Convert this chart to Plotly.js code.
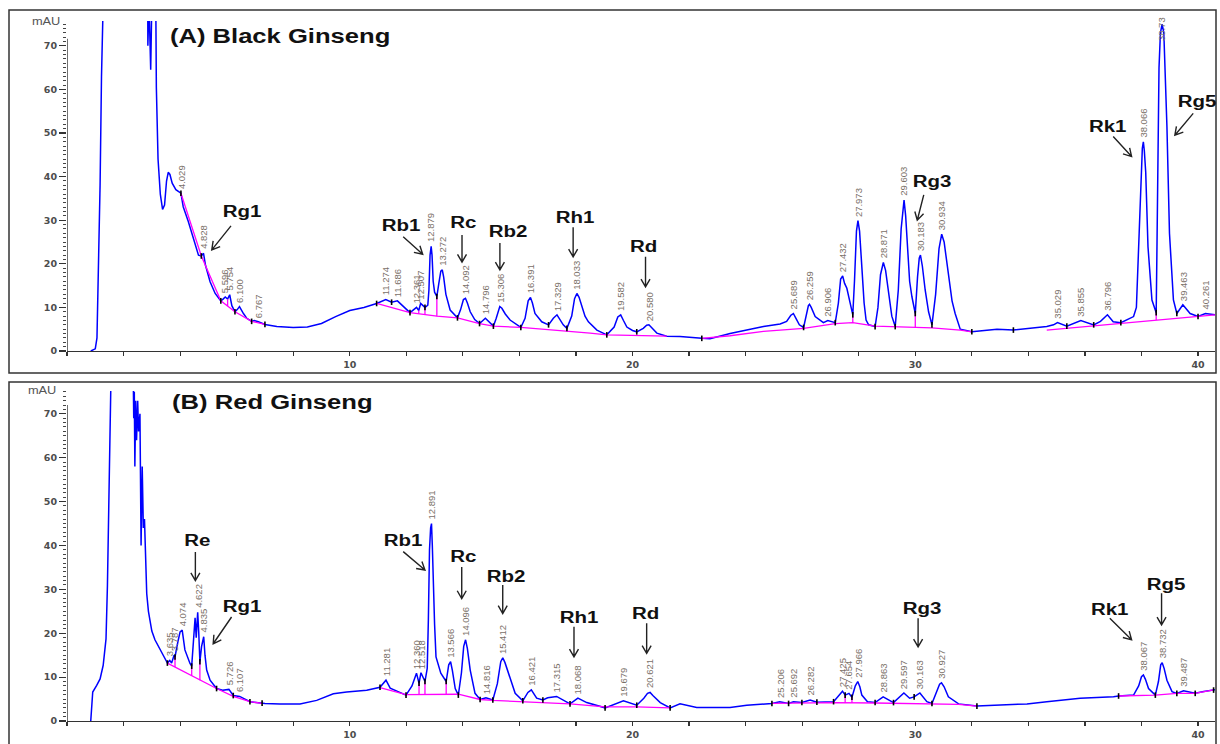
<!DOCTYPE html>
<html>
<head>
<meta charset="utf-8">
<script src="https://cdn.plot.ly/plotly-3.0.1.min.js"></script>
<style>
  html, body { margin: 0; padding: 0; background: #ffffff; }
  #chart { width: 1220px; height: 744px; }
</style>
</head>
<body>
<div id="chart"></div>
<script>
// ---------------- (A) Black Ginseng : retention time (min) vs absorbance (mAU)
const timeA = [
  0.84,1.00,1.06,1.10,1.17,1.22,1.28,2.855,2.86,2.90,
  2.96,3.00,3.14,3.16,3.22,3.30,3.38,3.45,3.52,3.58,
  3.64,3.72,3.85,4.029,4.11,4.29,4.47,4.65,4.75,4.828,
  4.90,5.06,5.24,5.44,5.52,5.596,5.68,5.754,5.83,5.94,
  6.02,6.100,6.24,6.36,6.53,6.62,6.767,7.00,7.42,8.00,
  8.50,9.00,9.50,10.00,10.50,10.95,11.274,11.48,11.686,11.90,
  12.13,12.361,12.44,12.507,12.66,12.76,12.80,12.84,12.879,12.91,
  12.95,13.00,13.08,13.15,13.22,13.272,13.32,13.40,13.55,13.81,
  13.92,14.02,14.092,14.16,14.26,14.42,14.59,14.796,15.08,15.18,
  15.26,15.306,15.38,15.50,15.67,16.05,16.20,16.31,16.391,16.46,
  16.55,16.79,17.03,17.20,17.329,17.45,17.55,17.68,17.85,17.95,
  18.033,18.11,18.21,18.32,18.44,18.74,19.09,19.35,19.48,19.582,
  19.68,19.80,20.00,20.15,20.38,20.50,20.580,20.70,20.86,21.21,
  21.68,22.45,22.74,23.45,24.63,25.22,25.45,25.60,25.689,25.78,
  25.90,26.05,26.15,26.22,26.259,26.32,26.46,26.75,26.906,27.17,
  27.28,27.36,27.432,27.50,27.58,27.70,27.79,27.85,27.92,27.973,
  28.03,28.11,28.19,28.26,28.35,28.58,28.68,28.77,28.871,28.95,
  29.05,29.17,29.29,29.40,29.50,29.603,29.66,29.72,29.80,29.88,
  30.00,30.08,30.14,30.183,30.25,30.35,30.47,30.59,30.72,30.84,
  30.934,31.02,31.17,31.30,31.41,31.59,32.00,32.89,33.47,34.65,
  34.89,35.029,35.36,35.855,36.31,36.55,36.796,37.00,37.27,37.72,
  37.82,37.90,37.99,38.03,38.066,38.10,38.15,38.23,38.37,38.52,
  38.55,38.58,38.62,38.67,38.73,38.79,38.83,38.90,38.99,39.13,
  39.25,39.463,39.72,40.00,40.261,40.60];
const signalA = [
  0,0.5,3,14,38,63,80,80,70,80,
  64.5,80,80,60.5,44,36,32.5,33.5,39,41,
  40.5,38.5,37,36.2,33.1,29.7,25.8,22.0,21.8,22.4,
  19.6,15.9,13.2,11.5,11.9,12.4,11.9,12.9,10.4,9.0,
  9.5,10.2,8.6,7.5,6.8,7.0,6.7,6.1,5.6,5.4,
  5.5,6.3,7.9,9.3,10.0,10.9,11.8,11.2,11.5,10.2,
  8.8,10.0,9.3,10.9,10.0,10.5,14,22,24.0,22,
  16,13.5,12.5,15.5,18.3,18.6,17,13,9.4,7.6,
  9.5,11.8,12.1,11,9.0,7.2,6.3,7.5,5.7,7.5,
  9.6,10.2,9.8,8.5,7.1,5.4,7.5,11.5,12.3,11,
  8.6,6.7,6.0,7.5,8.3,7,6,5.2,8,12,
  13.2,12.3,10.2,8,6.7,4.8,3.7,5.5,7.8,8.3,
  7,5.5,4.7,4.4,5.2,5.9,6.0,5.2,4.1,3.4,
  3.3,2.9,2.8,4.0,5.6,6.2,6.8,8.2,8.6,7.5,
  6.0,5.4,8.5,10.4,10.7,10,7.9,6.5,7.0,6.5,
  11,16.5,17.2,15.5,14.4,10.9,8.3,16,27.5,29.9,
  27.5,19.3,11,7.1,6.0,5.6,10,17.5,20.3,18.5,
  13.2,8,5.6,14,28,34.6,31,23.9,16,12.5,
  8.6,17,21.3,22.0,19.5,14.0,9,6.0,13,23.5,
  26.8,25,17.8,11.5,8.6,5.0,4.4,5.0,4.8,5.6,
  6.0,6.5,5.7,7.0,6.0,6.8,8.3,6.7,6.5,7.9,
  10,23.9,41.1,46.5,48.0,46,41,23.9,11.7,8.8,
  25,51.5,65,73,75.0,73,65,51.5,27,11.7,
  8.6,10.6,8.6,7.9,8.6,8.3];

const peakLabelsA = ['4.029','4.828','5.596','5.754','6.100','6.767','11.274','11.686','12.361','12.507','12.879','13.272','14.092','14.796','15.306','16.391','17.329','18.033','19.582','20.580','25.689','26.259','26.906','27.432','27.973','28.871','29.603','30.183','30.934','35.029','35.855','36.796','38.066','38.73','39.463','40.261'];

// integration baseline (null separates segments)
const baseTimeA  = [4.029,4.75,5.44,5.94,6.53,7.00,null,10.95,12.13,13.08,13.81,14.59,15.08,16.05,17.03,17.68,18.5,19.09,20.15,21.21,null,22.45,23.45,24.63,25.22,26.05,27.17,27.79,28.58,29.29,30.00,30.59,31.59,32.00,null,34.65,36.31,37.27,38.52,39.25,40.00,40.60];
const baseValueA = [36.2,21.8,11.5,9.0,6.8,6.1,null,10.9,8.8,8.0,7.6,6.3,5.7,5.4,4.9,4.6,4.1,3.7,3.5,3.4,null,2.9,3.5,4.5,4.8,5.2,6.3,6.5,5.7,5.6,5.5,5.3,4.8,4.4,null,4.8,5.8,6.4,7.1,7.6,7.9,8.3];
const dropTimesA = [5.68,12.44,12.66,13.08,27.79,30.00,38.52];
const markTimesA = [4.029,4.75,5.44,5.94,6.53,7.00,10.95,11.48,12.13,12.66,13.08,13.81,14.59,15.08,16.05,17.03,17.68,19.09,20.15,22.45,26.05,27.17,27.79,28.58,29.29,30.00,30.59,32.00,33.47,35.36,36.31,37.27,38.52,39.25,40.00];

// ---------------- (B) Red Ginseng
const timeB = [
  0.84,0.91,1.05,1.17,1.28,1.38,1.43,1.50,1.56,2.34,
  2.36,2.38,2.40,2.43,2.46,2.50,2.53,2.58,2.62,2.66,
  2.70,2.74,2.78,2.82,2.88,2.94,3.00,3.11,3.29,3.45,
  3.55,3.635,3.70,3.787,3.82,3.92,4.00,4.074,4.17,4.35,
  4.41,4.47,4.53,4.57,4.622,4.66,4.70,4.76,4.835,4.88,
  4.94,5.06,5.29,5.50,5.726,5.88,6.107,6.47,7.00,7.53,
  8.24,8.83,9.42,9.89,10.60,11.07,11.281,11.43,11.99,12.20,
  12.360,12.45,12.518,12.66,12.74,12.78,12.82,12.86,12.891,12.92,
  12.96,13.00,13.05,13.22,13.41,13.50,13.566,13.63,13.73,13.84,
  13.95,14.03,14.096,14.16,14.26,14.43,14.61,14.816,15.06,15.22,
  15.34,15.412,15.49,15.61,15.85,16.12,16.30,16.421,16.61,16.83,
  17.00,17.315,17.55,17.79,18.068,18.38,19.03,19.679,20.15,20.40,
  20.53,20.621,20.72,20.98,21.33,21.68,22.27,23.45,24.04,24.93,
  25.206,25.52,25.692,25.99,26.282,26.52,27.11,27.25,27.425,27.52,
  27.654,27.76,27.88,27.966,28.04,28.11,28.31,28.58,28.863,29.23,
  29.597,29.80,29.96,30.163,30.41,30.59,30.75,30.86,30.927,31.02,
  31.17,31.53,32.18,33.95,34.65,35.83,37.01,37.19,37.72,37.90,
  38.00,38.067,38.14,38.25,38.49,38.60,38.68,38.732,38.80,38.90,
  39.08,39.25,39.487,39.90,40.20,40.60];
const signalB = [
  0,6.6,8.1,9.6,12.7,18.7,30.9,52.9,80,80,
  69,75,58,73,64,73,66,70,40,58,
  44,46,36,29,25,22.3,20.5,18.5,16.2,14.3,
  13.2,13.8,13.2,15.0,14.6,18,20.3,20.7,16.2,13.1,
  12.5,18,23.5,19,24.8,20,13.5,17,19.2,15,
  11.6,9.3,7.4,7.0,7.2,5.8,5.6,4.4,4.0,3.9,
  3.9,4.7,6.2,6.6,7.0,7.7,9.3,7.5,5.9,8,
  10.9,8.6,11.0,9.0,12,23,39,44,45.0,40,
  30,22,14.6,10.9,9.0,12.8,13.5,11.5,7.4,5.9,
  11,17,18.5,16.5,11.6,6.3,4.9,5.3,4.8,8.5,
  13.5,14.4,13.3,10.9,6.3,4.6,6.5,7.1,5.2,4.8,
  5.3,5.6,4.8,3.9,5.2,4.2,3.0,4.6,3.6,5.2,
  6.3,6.5,5.8,4.2,3.0,3.9,3.1,3.1,3.6,4.0,
  4.4,4.0,4.4,4.2,4.8,4.3,4.4,5.5,6.8,5.9,
  6.3,5.4,8,9.0,7.8,5.9,4.4,4.2,5.5,4.2,
  6.4,5.2,5.5,6.4,4.4,4.0,6.5,8.4,8.7,7.8,
  5.5,3.9,3.4,3.9,4.4,5.2,5.5,5.7,5.9,8,
  10.1,10.5,9.5,7.4,5.9,9,12.8,13.3,12,9.3,
  6.7,6.3,6.9,6.3,6.7,7.1];

const peakLabelsB = ['3.635','3.787','4.074','4.622','4.835','5.726','6.107','11.281','12.360','12.518','12.891','13.566','14.096','14.816','15.412','16.421','17.315','18.068','19.679','20.621','25.206','25.692','26.282','27.425','27.654','27.966','28.863','29.597','30.163','30.927','38.067','38.732','39.487'];

const baseTimeB  = [3.55,4.41,4.70,5.29,5.88,6.47,6.90,null,11.07,11.99,13.84,14.61,15.06,16.12,17.79,19.03,20.15,21.33,null,24.93,25.52,27.11,28.58,30.59,31.53,32.18,null,37.19,38.49,39.25,39.90,40.55];
const baseValueB = [13.2,10.3,9.3,7.4,5.6,4.4,4.0,null,7.6,6.0,6.1,4.9,4.7,4.4,3.9,3.2,3.2,3.0,null,4.0,4.1,4.2,4.1,3.9,3.8,3.4,null,5.7,5.9,6.3,6.3,7.1];
const dropTimesB = [3.82,4.41,4.70,12.45,12.66,13.41,27.52,27.76];
const markTimesB = [3.55,3.82,4.41,4.70,5.29,5.88,6.47,6.90,11.07,11.99,12.45,12.66,13.41,13.84,14.61,15.06,16.12,16.83,17.79,19.03,20.15,21.33,24.93,25.52,25.99,26.52,27.11,27.52,27.76,28.58,29.23,29.96,30.59,32.18,37.19,38.49,39.25,39.90,40.55];

// ---------------- compound callouts: label centre, arrow tail and arrow tip (min, mAU)
const calloutsA = [
  {name:'Rg1', at:[6.19,32.1],  tail:[5.80,28.7],  tip:[5.12,23.2]},
  {name:'Rb1', at:[11.81,28.9], tail:[11.89,26.2], tip:[12.58,22.2]},
  {name:'Rc',  at:[14.04,29.4], tail:[13.97,26.6], tip:[13.97,20.4]},
  {name:'Rb2', at:[15.59,27.3], tail:[15.31,24.8], tip:[15.31,18.6]},
  {name:'Rh1', at:[17.96,30.7], tail:[17.90,28.4], tip:[17.90,21.6]},
  {name:'Rd',  at:[20.40,23.9], tail:[20.46,21.6], tip:[20.46,14.7]},
  {name:'Rg3', at:[30.59,38.8], tail:[30.30,35.8], tip:[30.07,30.0]},
  {name:'Rk1', at:[36.81,51.6], tail:[37.00,49.2], tip:[37.65,44.6]},
  {name:'Rg5', at:[39.96,57.3], tail:[39.83,54.5], tip:[39.18,49.5]}
];
const calloutsB = [
  {name:'Re',  at:[4.60,41.2],  tail:[4.54,38.5],  tip:[4.54,32.0]},
  {name:'Rg1', at:[6.19,26.2],  tail:[5.82,23.7],  tip:[5.17,17.6]},
  {name:'Rb1', at:[11.88,41.2], tail:[11.89,38.6], tip:[12.66,34.4]},
  {name:'Rc',  at:[14.04,37.4], tail:[13.96,35.1], tip:[13.96,27.9]},
  {name:'Rb2', at:[15.52,33.0], tail:[15.41,31.0], tip:[15.41,24.5]},
  {name:'Rh1', at:[18.10,23.5], tail:[17.93,21.5], tip:[17.93,14.6]},
  {name:'Rd',  at:[20.47,24.6], tail:[20.50,22.3], tip:[20.50,15.4]},
  {name:'Rg3', at:[30.23,25.7], tail:[30.10,23.4], tip:[30.10,16.9]},
  {name:'Rk1', at:[36.88,25.3], tail:[36.88,23.4], tip:[37.65,18.5]},
  {name:'Rg5', at:[38.86,31.0], tail:[38.71,29.1], tip:[38.71,21.9]}
];

// ---------------- page geometry (pixels)
const W = 1220, H = 744;
const plotL = 67, plotR = 1215;
const panelA = {top: 21, bottom: 351, yMax: 75.7, axisTop: 71.6};
const panelB = {top: 391, bottom: 721, yMax: 75.2, axisTop: 72.0};
const X_MAX = 40.6;
const pxPerMin = (plotR - plotL) / X_MAX;

function valueAt(ts, vs, t) {
  for (let i = 0; i < ts.length - 1; i++) {
    if (ts[i] === null || ts[i + 1] === null) continue;
    if (t >= ts[i] && t <= ts[i + 1]) {
      const f = (t - ts[i]) / (ts[i + 1] - ts[i]);
      return vs[i] + f * (vs[i + 1] - vs[i]);
    }
  }
  return null;
}

const FONT = 'Liberation Sans, Arial, sans-serif';
const traces = [];
const annotations = [];
const shapes = [];
let horizontalCount = 0;

function buildPanel(p, xr, yr, ts, vs, baseT, baseV, dropT, markT, callouts) {
  const pxPerUnit = (p.bottom - p.top) / p.yMax;

  traces.push({x: ts, y: vs, xaxis: xr, yaxis: yr, mode: 'lines', hoverinfo: 'skip',
               line: {color: '#0000ff', width: 1.5}});

  // baseline with drop lines
  const bx = baseT.slice(), by = baseV.slice();
  dropT.forEach(t => {
    bx.push(null, t, t); by.push(null, valueAt(ts, vs, t), valueAt(baseT, baseV, t));
  });
  traces.push({x: bx, y: by, xaxis: xr, yaxis: yr, mode: 'lines', hoverinfo: 'skip',
               connectgaps: false, line: {color: '#ff00ff', width: 1.3}});

  traces.push({x: markT, y: markT.map(t => valueAt(ts, vs, t)), xaxis: xr, yaxis: yr,
               mode: 'markers', hoverinfo: 'skip',
               marker: {symbol: 'line-ns-open', size: 4, color: '#000', line: {width: 1.6, color: '#000'}}});

  // y axis line (stops short of the clipped top)
  shapes.push({type: 'line', xref: xr, yref: yr, x0: 0, x1: 0, y0: 0, y1: p.axisTop,
               line: {color: '#333', width: 1.4}});

  // compound callouts with open arrowheads
  callouts.forEach(c => {
    annotations.push({xref: xr, yref: yr, x: c.at[0], y: c.at[1], text: c.name, showarrow: false,
                      xanchor: 'center', yanchor: 'middle',
                      font: {family: FONT, size: 16, color: '#111', weight: 700}});
    const x0 = c.tail[0] * pxPerMin, y0 = -c.tail[1] * pxPerUnit;
    const x1 = c.tip[0] * pxPerMin,  y1 = -c.tip[1] * pxPerUnit;
    const ang = Math.atan2(y1 - y0, x1 - x0), L = 9, a = Math.PI / 6;
    const hx1 = x1 - L * Math.cos(ang - a), hy1 = y1 - L * Math.sin(ang - a);
    const hx2 = x1 - L * Math.cos(ang + a), hy2 = y1 - L * Math.sin(ang + a);
    const T = px => (px / pxPerMin).toFixed(4);
    const V = py => (-py / pxPerUnit).toFixed(4);
    const path = `M${T(x0)},${V(y0)}L${T(x1)},${V(y1)}M${T(hx1)},${V(hy1)}L${T(x1)},${V(y1)}L${T(hx2)},${V(hy2)}`;
    shapes.push({type: 'path', xref: xr, yref: yr, path: path, line: {color: '#222', width: 1.4}});
  });
}

buildPanel(panelA, 'x', 'y', timeA, signalA, baseTimeA, baseValueA, dropTimesA, markTimesA, calloutsA);
buildPanel(panelB, 'x2', 'y2', timeB, signalB, baseTimeB, baseValueB, dropTimesB, markTimesB, calloutsB);

// panel titles and unit labels
annotations.push({xref: 'paper', yref: 'paper', x: 280 / W, y: (H - 36) / H, text: '(A) Black Ginseng',
                  showarrow: false, xanchor: 'center', yanchor: 'middle',
                  font: {family: FONT, size: 20, color: '#111', weight: 700}});
annotations.push({xref: 'paper', yref: 'paper', x: 272 / W, y: (H - 402) / H, text: '(B) Red Ginseng',
                  showarrow: false, xanchor: 'center', yanchor: 'middle',
                  font: {family: FONT, size: 20, color: '#111', weight: 700}});
annotations.push({xref: 'paper', yref: 'paper', x: 46 / W, y: (H - 22) / H, text: 'mAU',
                  showarrow: false, xanchor: 'center', yanchor: 'middle',
                  font: {family: FONT, size: 10, color: '#555'}});
annotations.push({xref: 'paper', yref: 'paper', x: 42 / W, y: (H - 390) / H, text: 'mAU',
                  showarrow: false, xanchor: 'center', yanchor: 'middle',
                  font: {family: FONT, size: 10, color: '#555'}});
horizontalCount = annotations.length;

// retention-time labels above each peak
function addPeakLabels(labels, ts, vs, xr, yr, p) {
  labels.forEach(s => {
    const t = Number(s);
    const v = Math.min(valueAt(ts, vs, t), p.yMax - 5.5);
    annotations.push({xref: xr, yref: yr, x: t, y: v, text: s, textangle: -90, showarrow: false,
                      xanchor: 'center', yanchor: 'bottom', yshift: 2,
                      font: {family: FONT, size: 9.5, color: '#7a7068'}});
  });
}
addPeakLabels(peakLabelsA, timeA, signalA, 'x', 'y', panelA);
addPeakLabels(peakLabelsB, timeB, signalB, 'x2', 'y2', panelB);

// panel frames
shapes.push({type: 'rect', xref: 'paper', yref: 'paper', x0: 9 / W, x1: 1216 / W,
             y0: (H - 373) / H, y1: (H - 10) / H, line: {color: '#333', width: 1.5}});
shapes.push({type: 'rect', xref: 'paper', yref: 'paper', x0: 9 / W, x1: 1216 / W,
             y0: -0.01, y1: (H - 382) / H, line: {color: '#333', width: 1.5}});

const tickFont = {family: 'DejaVu Sans, sans-serif', size: 9.5, color: '#4d4d4d', weight: 700};
function xAxis(anchor) {
  return {domain: [plotL / W, plotR / W], range: [0, X_MAX], anchor: anchor,
          tickvals: [10, 20, 30, 40], ticks: 'outside', ticklen: 4, tickwidth: 1.2, tickcolor: '#333',
          minor: {tick0: 0, dtick: 2, ticks: 'outside', ticklen: 4, tickwidth: 1.2, tickcolor: '#333', showgrid: false},
          showline: true, linecolor: '#333', linewidth: 1.4, showgrid: false, zeroline: false,
          tickfont: tickFont, fixedrange: true};
}
function yAxis(anchor, p) {
  return {domain: [(H - p.bottom) / H, (H - p.top) / H], range: [0, p.yMax], anchor: anchor,
          tickvals: [0, 10, 20, 30, 40, 50, 60, 70], ticks: 'outside', ticklen: 7, tickwidth: 1.2, tickcolor: '#333',
          minor: {tick0: 0, dtick: 1, ticks: 'outside', ticklen: 3, tickwidth: 1, tickcolor: '#444', showgrid: false},
          showline: false, showgrid: false, zeroline: false, tickfont: tickFont, fixedrange: true};
}

const layout = {
  width: W, height: H, margin: {l: 0, r: 0, t: 0, b: 0},
  paper_bgcolor: '#ffffff', plot_bgcolor: 'rgba(0,0,0,0)', showlegend: false,
  xaxis: xAxis('y'), yaxis: yAxis('x', panelA),
  xaxis2: xAxis('y2'), yaxis2: yAxis('x2', panelB),
  annotations: annotations, shapes: shapes
};

Plotly.newPlot('chart', traces, layout, {displayModeBar: false, staticPlot: true}).then(() => {
  // widen the horizontal lettering a little, scaled about each text's own centre
  document.querySelectorAll('g.annotation').forEach(g => {
    const idx = Number(g.getAttribute('data-index'));
    const txt = g.querySelector('text.annotation-text');
    if (!txt || isNaN(idx) || idx >= horizontalCount) return;
    txt.style.transformBox = 'fill-box';
    txt.style.transformOrigin = 'center';
    txt.style.transform = 'scaleX(1.28)';
  });
});
</script>
</body>
</html>
